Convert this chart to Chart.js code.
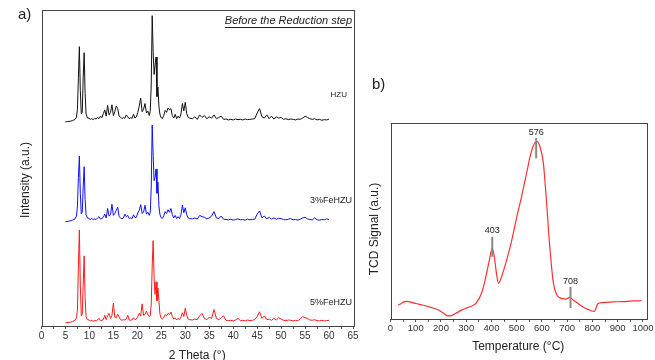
<!DOCTYPE html>
<html>
<head>
<meta charset="utf-8">
<script src="https://cdn.jsdelivr.net/npm/chart.js@4.4.0/dist/chart.umd.min.js"></script>
<style>
  body { margin: 0; width: 655px; height: 360px; overflow: hidden; background: #fff; position: relative; }
  canvas { position: absolute; top: 0; }
  #xrd { left: 0; }
  #tpr { left: 360px; }
</style>
</head>
<body>
<canvas id="xrd" width="360" height="365"></canvas>
<canvas id="tpr" width="295" height="360"></canvas>
<script>
// ---- a) XRD patterns (2 theta grid shared by the three samples)
const twoTheta = [
  5.0, 5.5, 6.0, 6.5, 7.0, 7.3, 7.5, 7.7, 7.9, 8.1, 8.3, 8.5, 8.7, 8.9, 9.1, 9.3, 9.6,
  9.9, 10.2, 10.5, 10.8, 11.1, 11.4, 11.7, 12.0, 12.3, 12.6, 12.9, 13.2, 13.5, 13.8, 14.1, 14.4, 14.7, 15.0, 15.3, 15.6, 15.9, 16.2, 16.5, 16.8, 17.1, 17.4, 17.7, 18.0, 18.3, 18.6, 18.9, 19.2, 19.5, 19.8, 20.1, 20.4, 20.7, 21.0, 21.3, 21.6, 21.9, 22.2, 22.5,
  22.7, 22.9, 23.1, 23.3, 23.5, 23.7, 23.9, 24.1, 24.3, 24.5, 24.7, 24.9,
  25.2, 25.5, 25.8, 26.1, 26.4, 26.7, 27.0, 27.3, 27.6, 27.9, 28.2, 28.5, 28.8, 29.1, 29.4, 29.7, 30.0, 30.3, 30.6, 30.9,
  31.5, 32.0, 32.5, 33.0, 33.5, 34.0, 34.5, 35.0, 35.5, 36.0, 36.5, 37.0, 37.5, 38.0, 38.5, 39.0, 39.5, 40.0, 40.5, 41.0, 41.5, 42.0, 42.5, 43.0, 43.5, 44.0, 44.5, 45.0, 45.5, 46.0, 46.5, 47.0, 47.5, 48.0, 48.5, 49.0, 49.5, 50.0, 50.5, 51.0, 51.5, 52.0, 52.5, 53.0, 53.5, 54.0, 54.5, 55.0, 55.5, 56.0, 56.5, 57.0, 57.5, 58.0, 58.5, 59.0, 59.5, 60.0
];
const hzu = [
  0.0, 0.1, 0.2, 0.4, 0.8, 1.5, 4.0, 14.0, 23.8, 10.0, 2.5, 3.0, 14.0, 21.9, 9.0, 2.5, 1.2,
  1.2, 0.8, 1.0, 0.7, 1.1, 0.9, 1.4, 1.0, 1.8, 1.3, 2.6, 3.8, 1.8, 5.2, 2.2, 3.0, 5.4, 2.0, 3.2, 5.0, 4.2, 1.8, 1.5, 1.0, 1.4, 1.1, 2.2, 1.6, 1.0, 1.3, 1.1, 2.4, 1.2, 1.6, 3.0, 5.0, 7.5, 3.2, 4.0, 5.8, 2.8, 3.4, 2.0,
  3.5, 12.0, 33.6, 22.0, 15.0, 18.0, 20.5, 8.0, 11.0, 5.0, 2.5, 1.5,
  1.0, 2.0, 3.6, 3.0, 4.4, 3.8, 4.2, 2.0, 1.2, 2.4, 1.0, 1.8, 1.2, 2.5, 5.8, 3.5, 6.2, 2.6, 1.4, 1.2,
  1.0, 1.6, 0.8, 2.2, 1.4, 2.0, 1.0, 1.6, 1.2, 2.2, 1.0, 1.4, 1.8, 0.8, 0.9, 0.6, 0.8, 0.6, 0.9, 0.7, 0.8, 0.6, 0.9, 0.7, 0.8, 0.9, 1.0, 2.8, 4.2, 1.6, 1.2, 2.2, 1.0, 1.8, 0.9, 1.6, 1.2, 1.4, 0.8, 1.0, 0.7, 0.9, 0.8, 0.6, 0.9, 0.8, 1.2, 1.8, 1.4, 1.0, 0.8, 1.0, 0.6, 0.8, 0.5, 0.7, 0.6, 0.9
];
const fe3 = [
  0.0, 0.1, 0.3, 0.5, 0.9, 1.8, 5.0, 14.0, 20.8, 9.0, 2.5, 3.0, 11.0, 17.4, 7.0, 2.2, 1.2,
  1.0, 0.7, 1.1, 0.6, 0.9, 0.7, 1.2, 1.6, 0.9, 1.0, 1.4, 2.4, 1.2, 4.2, 1.8, 2.2, 5.5, 2.0, 2.6, 3.6, 4.6, 1.6, 1.2, 0.9, 1.2, 2.4, 1.6, 2.0, 1.0, 1.2, 1.0, 2.2, 1.3, 1.4, 2.8, 3.6, 5.4, 2.6, 3.0, 5.2, 2.4, 3.0, 2.0,
  3.0, 11.0, 30.6, 21.0, 13.0, 14.0, 16.7, 9.0, 12.5, 5.0, 2.4, 1.4,
  1.0, 1.8, 3.2, 2.6, 3.8, 3.0, 4.2, 2.2, 1.2, 2.0, 1.0, 1.6, 1.0, 2.2, 5.3, 2.8, 4.4, 2.2, 1.2, 1.0,
  0.9, 1.2, 0.8, 2.0, 1.6, 1.4, 0.9, 1.2, 1.8, 3.2, 1.2, 1.0, 1.8, 0.8, 0.7, 0.6, 0.8, 0.5, 0.7, 0.9, 0.6, 0.7, 0.5, 0.8, 0.6, 0.7, 0.8, 2.4, 3.4, 1.2, 1.8, 0.9, 1.4, 0.8, 1.2, 0.8, 1.1, 1.0, 0.7, 0.6, 0.8, 1.0, 0.6, 0.7, 0.5, 0.8, 1.2, 1.4, 0.9, 0.7, 0.6, 1.2, 0.6, 0.5, 0.7, 0.6, 0.9, 0.7
];
const fe5 = [
  0.0, 0.1, 0.2, 0.4, 0.8, 1.6, 4.0, 18.0, 29.4, 12.0, 2.2, 2.8, 12.0, 21.2, 8.0, 2.0, 1.0,
  0.9, 0.6, 0.8, 0.5, 0.8, 0.6, 0.9, 1.4, 0.7, 0.8, 1.0, 2.4, 1.0, 2.2, 3.0, 1.4, 2.4, 6.2, 1.8, 1.6, 2.7, 1.8, 1.0, 0.8, 1.0, 0.9, 1.2, 2.4, 0.9, 0.8, 0.9, 1.6, 1.0, 1.2, 2.0, 3.0, 2.2, 6.0, 2.4, 2.6, 3.7, 2.6, 2.0,
  2.2, 6.0, 18.0, 26.0, 14.0, 9.0, 13.0, 7.0, 11.0, 7.0, 3.0, 1.6,
  1.2, 1.6, 2.6, 2.2, 3.0, 2.6, 3.4, 2.0, 1.2, 1.6, 0.9, 1.4, 1.0, 1.8, 3.2, 2.0, 4.6, 2.4, 1.2, 1.0,
  0.9, 1.2, 1.0, 2.2, 3.0, 1.4, 1.0, 1.8, 1.4, 4.2, 1.4, 1.0, 1.6, 2.2, 0.8, 0.7, 0.8, 0.6, 0.9, 1.4, 0.7, 0.8, 0.6, 0.9, 0.7, 0.8, 1.0, 2.0, 3.5, 1.4, 2.2, 1.0, 1.2, 0.8, 1.4, 0.9, 1.6, 1.2, 0.8, 0.7, 0.9, 0.8, 0.6, 0.8, 0.7, 1.2, 2.0, 1.6, 1.4, 0.9, 0.8, 1.0, 0.7, 0.6, 0.8, 0.6, 0.7, 0.8
];
// vertical stacking of the patterns
const stackOffset = { hzu: 64.6, fe3: 33, fe5: 1 };

// ---- b) H2-TPR profile
const temps = [30, 40, 50, 65, 80, 100, 130, 160, 190, 210, 225, 240, 260, 280, 300, 320, 340, 360, 375, 390,
  403, 412, 420, 428, 440, 460, 480, 500, 520, 540, 555, 570, 580, 592, 605, 612, 619, 626, 632, 645,
  659, 678, 695, 710, 725, 745, 770, 795, 808, 815, 822, 840, 880, 920, 960, 995];
const tcd = [7.1, 7.6, 8.6, 9.0, 8.6, 7.9, 7.0, 5.9, 4.6, 3.0, 1.6, 1.7, 3.0, 4.4, 5.6, 6.5, 8.2, 13, 20, 29,
  36, 31, 23, 18.2, 21.6, 30, 40, 52, 63, 75, 84, 89.5, 90.5, 88, 80, 70, 58, 45, 35, 18.5,
  12.2, 10.5, 10.1, 11.0, 9.6, 7.6, 5.6, 4.2, 3.9, 6.0, 7.8, 8.4, 8.7, 8.9, 9.2, 9.3];
const peakTemps = [403, 577, 713];
const peakNames = ['403', '576', '708'];
const peakLow = [31.8, 82, 5.6];
const peakHigh = [42, 92.3, 16.3];

Chart.defaults.font.family = '"Liberation Sans", Arial, sans-serif';
Chart.defaults.color = '#333';

function pts(xs, ys, off) {
  return xs.map((x, i) => ({ x: x, y: ys[i] + (off || 0) }));
}

function text(ctx, s, x, y, font, align, rot) {
  ctx.save();
  ctx.font = font;
  ctx.fillStyle = '#222';
  ctx.textAlign = align || 'center';
  ctx.textBaseline = 'middle';
  ctx.translate(x, y);
  if (rot) ctx.rotate(rot);
  ctx.fillText(s, 0, 0);
  ctx.restore();
}

function frame(chart) {
  const a = chart.chartArea, ctx = chart.ctx;
  ctx.save();
  ctx.strokeStyle = '#444';
  ctx.lineWidth = 1;
  ctx.strokeRect(Math.round(a.left) + 0.5, Math.round(a.top) + 0.5, Math.round(a.right - a.left), Math.round(a.bottom - a.top));
  ctx.restore();
}

function xAxis(min, max, step, major, height, title, titlePad, fontSize, pad) {
  return {
    type: 'linear', min: min, max: max,
    ticks: { stepSize: step, includeBounds: false, autoSkip: false, maxRotation: 0, padding: pad, font: { size: fontSize }, color: '#333',
      callback: v => (v % major === 0 ? v : '') },
    grid: { drawOnChartArea: false, drawTicks: true, tickLength: 3, color: '#555' },
    border: { display: false },
    title: { display: true, text: title, font: { size: 12 }, color: '#222', padding: { top: 0, bottom: titlePad } },
    afterFit: s => { s.height = height; s.paddingLeft = 0; s.paddingRight = 0; }
  };
}

function yAxis(width) {
  return {
    min: 0, max: 100,
    ticks: { display: false },
    grid: { display: false },
    border: { display: false },
    afterFit: s => { s.width = width; }
  };
}

// ---- panel a
new Chart(document.getElementById('xrd'), {
  type: 'line',
  data: {
    datasets: [
      { label: 'HZU', data: pts(twoTheta, hzu, stackOffset.hzu), borderColor: '#111' },
      { label: '3%FeHZU', data: pts(twoTheta, fe3, stackOffset.fe3), borderColor: '#1010ff' },
      { label: '5%FeHZU', data: pts(twoTheta, fe5, stackOffset.fe5), borderColor: '#ff1a1a' }
    ]
  },
  options: {
    responsive: false, animation: false, devicePixelRatio: 1,
    layout: { padding: { left: 0, top: 10, right: 7, bottom: 0 } },
    elements: { point: { radius: 0 }, line: { borderWidth: 1, tension: 0 } },
    plugins: { legend: { display: false }, tooltip: { enabled: false } },
    scales: {
      x: xAxis(0, 65, 2.5, 5, 39, '2 Theta (°)', 2, 10, 1.5),
      y: yAxis(41.5)
    }
  },
  plugins: [{
    id: 'decoA',
    afterDraw(chart) {
      const ctx = chart.ctx;
      frame(chart);
      text(ctx, 'Intensity (a.u.)', 26, 180, '12px "Liberation Sans", Arial', 'center', -Math.PI / 2);
      text(ctx, 'a)', 18, 15, '15px "Liberation Sans", Arial', 'left');
      const t = 'Before the Reduction step';
      ctx.save();
      ctx.font = 'italic 11px "Liberation Sans", Arial';
      const w = ctx.measureText(t).width;
      ctx.restore();
      text(ctx, t, 352, 21, 'italic 11px "Liberation Sans", Arial', 'right');
      ctx.save();
      ctx.strokeStyle = '#222';
      ctx.lineWidth = 1;
      ctx.beginPath();
      ctx.moveTo(352 - w, 27.5);
      ctx.lineTo(352, 27.5);
      ctx.stroke();
      ctx.restore();
      text(ctx, 'HZU', 347, 95, '8px "Liberation Sans", Arial', 'right');
      text(ctx, '3%FeHZU', 352, 201, '9px "Liberation Sans", Arial', 'right');
      text(ctx, '5%FeHZU', 352, 303, '9px "Liberation Sans", Arial', 'right');
    }
  }]
});

// ---- panel b
const markerSets = peakTemps.map((t, i) => ({
  data: [{ x: t, y: peakLow[i] }, { x: t, y: peakHigh[i] }],
  borderColor: '#888', borderWidth: 2
}));

new Chart(document.getElementById('tpr'), {
  type: 'line',
  data: {
    datasets: markerSets.concat([
      { label: 'TPR', data: pts(temps, tcd), borderColor: '#ff3030', borderWidth: 1.2, cubicInterpolationMode: 'monotone' }
    ])
  },
  options: {
    responsive: false, animation: false, devicePixelRatio: 1,
    layout: { padding: { left: 0, top: 123, right: 9, bottom: 0 } },
    elements: { point: { radius: 0 }, line: { borderWidth: 1, tension: 0 } },
    plugins: { legend: { display: false }, tooltip: { enabled: false } },
    scales: {
      x: xAxis(0, 1012, 50, 100, 41, 'Temperature (°C)', 6.1, 9.5, 1),
      y: yAxis(30.5)
    }
  },
  plugins: [{
    id: 'decoB',
    afterDraw(chart) {
      const ctx = chart.ctx, xs = chart.scales.x, ys = chart.scales.y;
      frame(chart);
      text(ctx, 'TCD Signal (a.u.)', 15, 229, '12px "Liberation Sans", Arial', 'center', -Math.PI / 2);
      text(ctx, 'b)', 12, 85, '15px "Liberation Sans", Arial', 'left');
      peakTemps.forEach((t, i) => {
        text(ctx, peakNames[i], xs.getPixelForValue(t), ys.getPixelForValue(peakHigh[i]) - 6, '9px "Liberation Sans", Arial', 'center');
      });
    }
  }]
});
</script>
</body>
</html>
